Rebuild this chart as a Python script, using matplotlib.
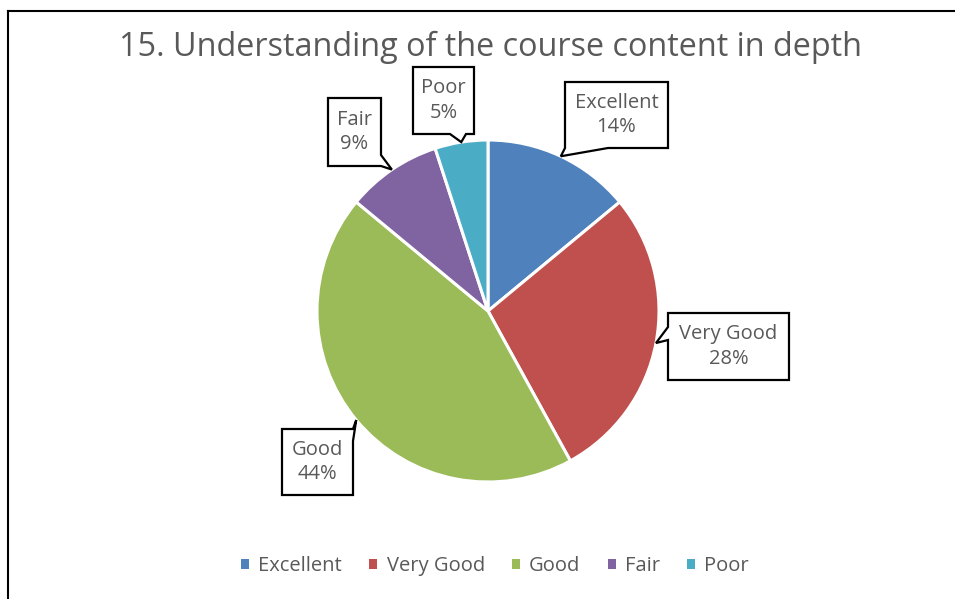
import numpy as np
import matplotlib
matplotlib.use("Agg")
from matplotlib import pyplot as plt
from matplotlib.patches import Polygon, Patch
from matplotlib.lines import Line2D

plt.rcParams['font.family'] = ['Open Sans', 'DejaVu Sans']

W, H = 955, 599

categories = ["Excellent", "Very Good", "Good", "Fair", "Poor"]
shares = [14, 28, 44, 9, 5]
colors = ["#4F81BD", "#C0504D", "#9BBB59", "#8064A2", "#4BACC6"]
text_color = "#595959"

# callout boxes in pixel coords (x0, y0, x1, y1), pointer side and base along that side
boxes = {
    "Excellent": ((565, 82, 668, 148), "bottom", 565, 608),
    "Very Good": ((668, 313, 789, 380), "left", 327, 340),
    "Good": ((282, 429, 353, 495), "right", 429, 441),
    "Fair": ((328, 98, 381, 166), "right", 155, 166),
    "Poor": ((413, 67, 474, 134), "bottom", 450, 466),
}

fig = plt.figure(figsize=(W / 100, H / 100), dpi=100)
ax = fig.add_axes([0, 0, 1, 1])

cx, cy, r = 488, H - 311, 171
wedges, _ = ax.pie(shares, colors=colors, startangle=90, counterclock=False,
                   center=(cx, cy), radius=r,
                   wedgeprops=dict(edgecolor="white", linewidth=2.2))
ax.set_xlim(0, W)
ax.set_ylim(0, H)
ax.set_aspect("equal")
ax.axis("off")


def callout(box, side, b1, b2, tip, label):
    x0, y0, x1, y1 = box
    tx, ty = tip
    pts = [(x0, y0)]
    if side == "top":
        pts += [(b1, y0), (tx, ty), (b2, y0)]
    pts.append((x1, y0))
    if side == "right":
        pts += [(x1, b1), (tx, ty), (x1, b2)]
    pts.append((x1, y1))
    if side == "bottom":
        pts += [(b2, y1), (tx, ty), (b1, y1)]
    pts.append((x0, y1))
    if side == "left":
        pts += [(x0, b2), (tx, ty), (x0, b1)]
    pts = [(px, H - py) for px, py in pts]
    ax.add_patch(Polygon(pts, closed=True, facecolor="white", edgecolor="black",
                         linewidth=1.6, zorder=5))
    ax.text((x0 + x1) / 2, H - (y0 + y1) / 2, label, ha="center", va="center",
            fontsize=14.5, color=text_color, linespacing=1.3, zorder=6)


for w, name, val in zip(wedges, categories, shares):
    mid = np.deg2rad((w.theta1 + w.theta2) / 2)
    tip = (cx + r * np.cos(mid), H - (cy + r * np.sin(mid)))
    box, side, b1, b2 = boxes[name]
    callout(box, side, b1, b2, tip, f"{name}\n{val}%")

fig.text(490 / W, 1 - 47 / H, "15. Understanding of the course content in depth",
         ha="center", va="center", fontsize=23.3, color=text_color)

handles = [Patch(facecolor=c, edgecolor="none") for c in colors]
fig.legend(handles, categories, loc="center", bbox_to_anchor=(495 / W, 1 - 566 / H),
           ncol=5, frameon=False, fontsize=14.5, labelcolor=text_color,
           handlelength=0.4, handleheight=0.4, handletextpad=0.45, columnspacing=1.35)

# chart border (cut at right and bottom)
fig.add_artist(Line2D([8 / W, 8 / W], [0, 1 - 11 / H], color="black", linewidth=1.5))
fig.add_artist(Line2D([8 / W, 1], [1 - 11 / H, 1 - 11 / H], color="black", linewidth=1.5))

fig.savefig("out.png", dpi=100)
